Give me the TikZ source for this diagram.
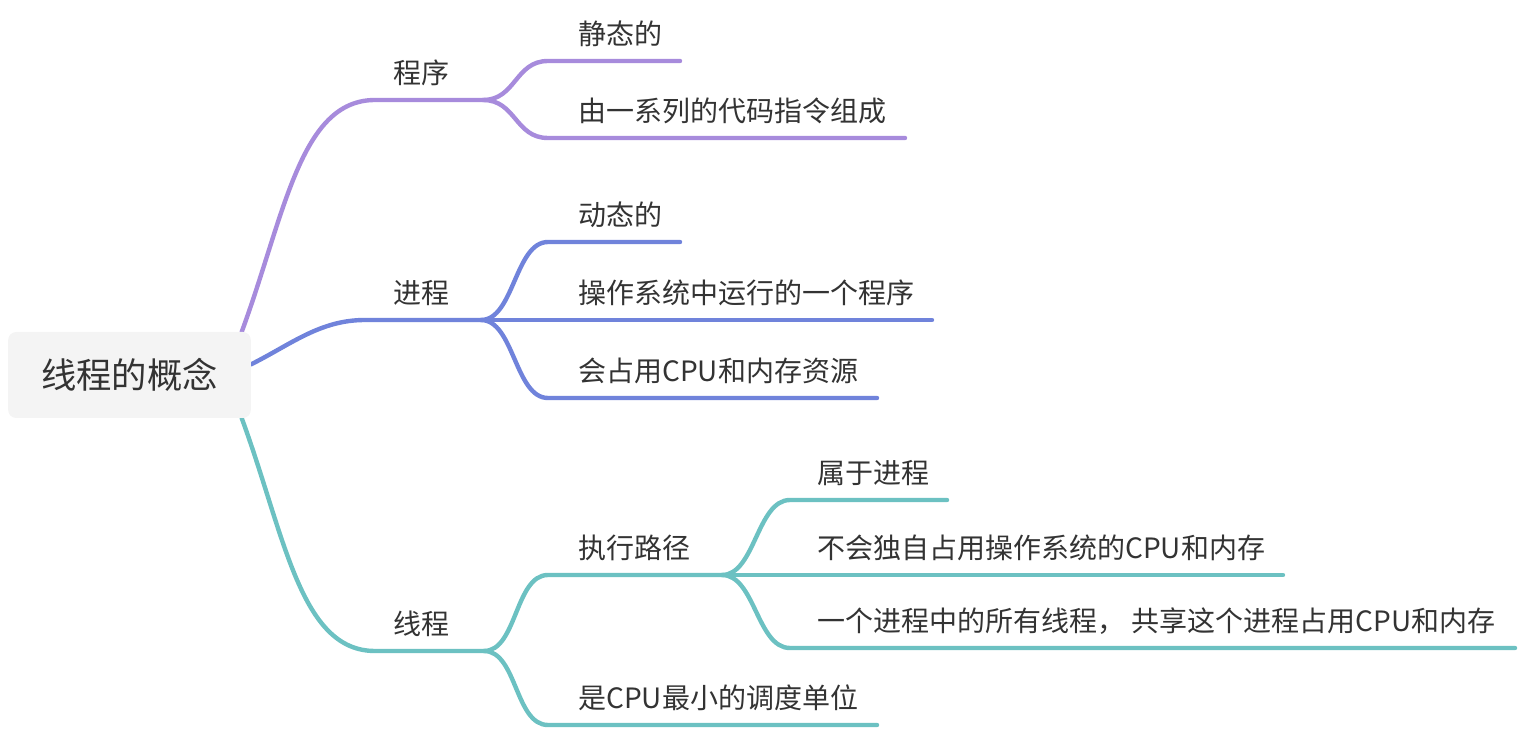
\documentclass[tikz,border=0pt]{standalone}
\usepackage{fontspec}
\setmainfont{Noto Sans CJK SC}
\usetikzlibrary{backgrounds}
\definecolor{progpurple}{HTML}{A78BDC}
\definecolor{procblue}{HTML}{7083DB}
\definecolor{thrteal}{HTML}{6CC1C2}
\definecolor{inkgray}{HTML}{333333}
\definecolor{rootfill}{HTML}{F4F4F4}
\tikzset{
	branch/.style={line width=3.3pt, line cap=round, draw=#1},
	topic/.style={anchor=base west, inner sep=0pt, text=inkgray, font=\fontsize{21}{25}\selectfont},
	roottopic/.style={fill=rootfill, rounded corners=6pt, inner sep=0pt, text=inkgray,
		minimum width=182pt, minimum height=64.5pt, font=\fontsize{26.5}{30}\selectfont}
}

\begin{document}
\begin{tikzpicture}[x=0.75pt, y=-0.75pt]
\useasboundingbox (0,0) rectangle (1522,730);
\node[roottopic] (root) at (129.5,375) {线程的概念};

% first level
\node[topic] (prog) at (393,84) {程序};
\node[topic] (proc) at (393,304) {进程};
\node[topic] (thr) at (393,635) {线程};
\coordinate (prog-s) at (375,100); \coordinate (prog-e) at (483,100);
\coordinate (proc-s) at (365,320); \coordinate (proc-e) at (481,320);
\coordinate (thr-s) at (375,651); \coordinate (thr-e) at (484,651);

% second level
\node[topic] (stat) at (578,45) {静态的};
\node[topic] (code) at (578,122) {由一系列的代码指令组成};
\node[topic] (dyn) at (578,226) {动态的};
\node[topic] (osrun) at (578,304) {操作系统中运行的一个程序};
\node[topic] (res) at (578,382) {会占用CPU和内存资源};
\node[topic] (path) at (578,559) {执行路径};
\node[topic] (unit) at (578,709) {是CPU最小的调度单位};
\coordinate (stat-s) at (548,61); \coordinate (stat-e) at (680,61);
\coordinate (code-s) at (548,138); \coordinate (code-e) at (905,138);
\coordinate (dyn-s) at (548,242); \coordinate (dyn-e) at (680,242);
\coordinate (osrun-e) at (932,320);
\coordinate (res-s) at (548,398); \coordinate (res-e) at (877,398);
\coordinate (path-s) at (548,575); \coordinate (path-e) at (722,575);
\coordinate (unit-s) at (548,725); \coordinate (unit-e) at (877,725);

% third level
\node[topic] (own) at (817,484) {属于进程};
\node[topic] (excl) at (817,559) {不会独自占用操作系统的CPU和内存};
\node[topic] (share) at (817,632) {一个进程中的所有线程， 共享这个进程占用CPU和内存};
\coordinate (own-s) at (790,500); \coordinate (own-e) at (947,500);
\coordinate (excl-e) at (1283,575);
\coordinate (share-s) at (790,648); \coordinate (share-e) at (1515,648);

\begin{scope}[on background layer]
\draw[branch=progpurple] ([xshift=-7pt]root.north east) .. controls +(43,-117) and +(-75,0) .. (prog-s) -- (prog-e);
\draw[branch=procblue] ([yshift=8pt]root.east) .. controls +(40,-20) and +(-45,0) .. (proc-s) -- (proc-e);
\draw[branch=thrteal] ([xshift=-7pt]root.south east) .. controls +(43,117) and +(-75,0) .. (thr-s) -- (thr-e);

\draw[branch=progpurple] (prog-e) .. controls +(33,0) and +(-33,0) .. (stat-s) -- (stat-e);
\draw[branch=progpurple] (prog-e) .. controls +(33,0) and +(-33,0) .. (code-s) -- (code-e);

\draw[branch=procblue] (proc-e) .. controls +(33,0) and +(-33,0) .. (dyn-s) -- (dyn-e);
\draw[branch=procblue] (proc-e) -- (osrun-e);
\draw[branch=procblue] (proc-e) .. controls +(33,0) and +(-33,0) .. (res-s) -- (res-e);

\draw[branch=thrteal] (thr-e) .. controls +(33,0) and +(-33,0) .. (path-s) -- (path-e);
\draw[branch=thrteal] (thr-e) .. controls +(33,0) and +(-33,0) .. (unit-s) -- (unit-e);

\draw[branch=thrteal] (path-e) .. controls +(33,0) and +(-33,0) .. (own-s) -- (own-e);
\draw[branch=thrteal] (path-e) -- (excl-e);
\draw[branch=thrteal] (path-e) .. controls +(33,0) and +(-33,0) .. (share-s) -- (share-e);
\end{scope}
\end{tikzpicture}
\end{document}
